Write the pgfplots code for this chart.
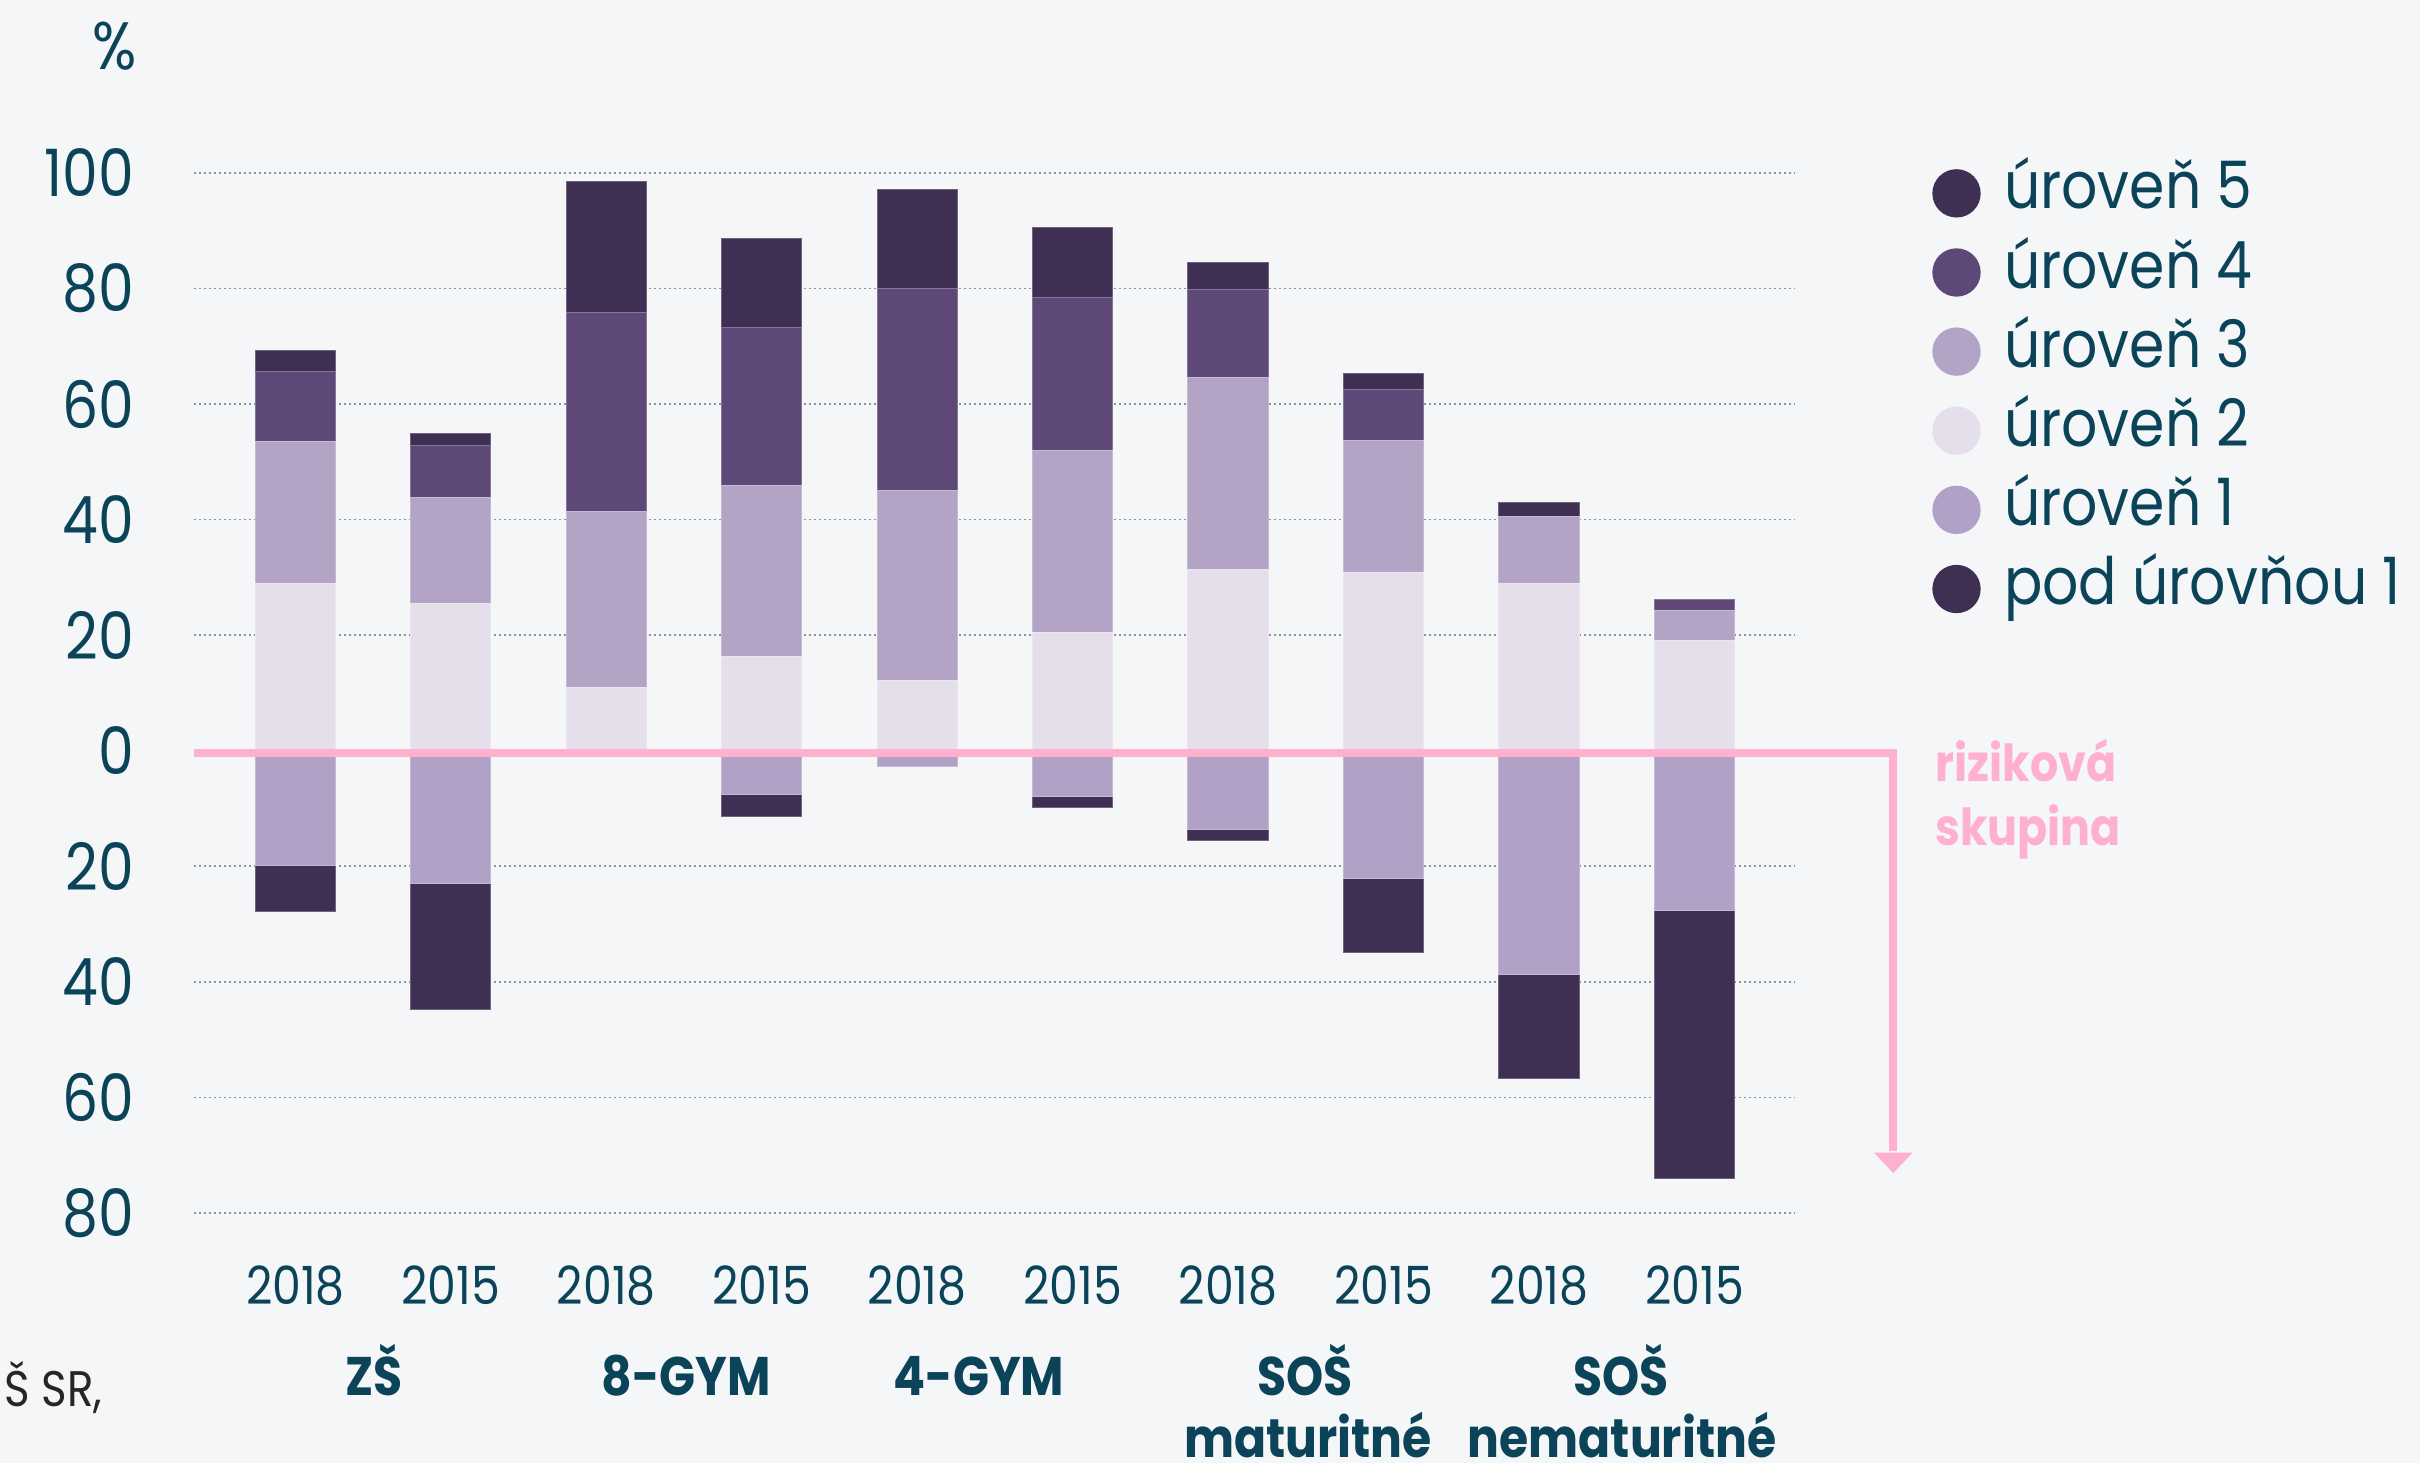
\documentclass[border=0pt]{standalone}
\usepackage{pgfplots}
\pgfplotsset{compat=1.18}
\usepackage{pgfplotstable}
\usepackage{fontspec}
\setmainfont{Poppins}[FakeStretch=0.87]
\definecolor{bgc}{HTML}{F4F6F8}
\definecolor{cfive}{HTML}{3F2F52}
\definecolor{cfour}{HTML}{5E4877}
\definecolor{cthree}{HTML}{B3A3C4}
\definecolor{ctwo}{HTML}{E5DFEB}
\definecolor{cone}{HTML}{B1A1C6}
\definecolor{cbelow}{HTML}{3F2F52}
\definecolor{pinkc}{HTML}{FFB0CF}
\definecolor{tealc}{HTML}{0B4459}
\definecolor{gridc}{HTML}{7E98A5}

% positive part: levels 2-5 (stacked upwards from 0)
\pgfplotstableread{
x l2 l3 l4 l5
0 29.0 24.6 12.0 3.7
1 25.5 18.4 9.0 2.0
2 10.9 30.5 34.4 22.8
3 16.3 29.6 27.4 15.3
4 12.1 32.9 35.0 17.1
5 20.5 31.4 26.6 12.1
6 31.3 33.3 15.3 4.6
7 30.8 22.9 8.9 2.7
8 29.0 11.5 0.0 2.5
9 19.1 5.1 1.9 0.0
}\postab

% negative part: level 1 and below level 1 (risk group)
\pgfplotstableread{
x l1 b1
0 -19.9 -8.0
1 -22.9 -21.9
2 -0.4 0.0
3 -7.5 -3.8
4 -2.7 0.0
5 -7.9 -2.0
6 -13.6 -1.9
7 -22.1 -12.8
8 -38.7 -18.0
9 -27.6 -46.4
}\negtab

\pgfplotsset{
  base/.style={
    scale only axis, width=480.2pt, height=312pt,
    xmin=-0.650, xmax=9.646, ymin=-80, ymax=100,
    ybar stacked, bar width=24.1pt, clip=false,
    at={(58.29pt,75pt)}, anchor=south west,
  },
  barsty/.style={fill=#1, draw=#1!75!white, line width=0.3pt},
  circleg/.style={legend image code/.code={\fill[##1,draw=none] (0pt,0pt) circle (7.25pt);}},
}

\begin{document}
\begin{tikzpicture}
\begin{scope}[x=0.3pt,y=0.3pt]
\fill[bgc] (0,0) rectangle (2420,1463);
\useasboundingbox (0,0) rectangle (2420,1463);
\end{scope}

\begin{axis}[base,
  axis line style={draw=none}, major tick length=0pt,
  ytick={-80,-60,...,100}, yticklabels={80,60,40,20,0,20,40,60,80,100},
  ymajorgrids, grid style={gridc, line width=0.5pt, dash pattern=on 0.5pt off 1pt},
  xtick={0,...,9}, xticklabels={2018,2015,2018,2015,2018,2015,2018,2015,2018,2015},
  yticklabel style={anchor=east, inner sep=0pt, xshift=-17.8pt, font=\fontsize{19.6}{20}\selectfont, text=tealc},
  xticklabel style={anchor=base, inner sep=0pt, yshift=-27.6pt, font=\fontsize{15.8}{16}\selectfont, text=tealc},
]
\addplot[barsty=ctwo] table[x=x,y=l2]{\postab};
\addplot[barsty=cthree] table[x=x,y=l3]{\postab};
\addplot[barsty=cfour] table[x=x,y=l4]{\postab};
\addplot[barsty=cfive] table[x=x,y=l5]{\postab};
\end{axis}

\begin{axis}[base, hide axis,
  legend style={at={(1.0854,1.0191)}, anchor=north west, draw=none, fill=none,
    inner sep=0pt, row sep=0pt, column sep=7pt,
    nodes={inner sep=0pt, text height=16.55pt, text depth=7.19pt,
      font=\fontsize{19.6}{20}\selectfont, text=tealc}},
  legend cell align=left,
  every axis plot post/.append style={circleg},
]
\addlegendimage{barsty=cfive,circleg}\addlegendentry{úroveň 5}
\addlegendimage{barsty=cfour,circleg}\addlegendentry{úroveň 4}
\addlegendimage{barsty=cthree,circleg}\addlegendentry{úroveň 3}
\addlegendimage{barsty=ctwo,circleg}\addlegendentry{úroveň 2}
\addplot[barsty=cone,circleg] table[x=x,y=l1]{\negtab};
\addlegendentry{úroveň 1}
\addplot[barsty=cbelow,circleg] table[x=x,y=b1]{\negtab};
\addlegendentry{pod úrovňou 1}
\end{axis}

\begin{scope}[x=0.3pt,y=0.3pt]
% risk-group line
\draw[pinkc, line width=2.4pt, miter limit=10] (194.3,710.2) -- (1893.3,710.2) -- (1893.3,312);
\fill[pinkc] (1874,310.3) -- (1912.7,310.3) -- (1893.3,290) -- cycle;
\node[anchor=base west, inner sep=0pt, text=pinkc, font=\fontsize{15.3}{16}\selectfont\bfseries] at (1935,681.3) {riziková};
\node[anchor=base west, inner sep=0pt, text=pinkc, font=\fontsize{15.3}{16}\selectfont\bfseries] at (1935,617.3) {skupina};
% percent sign
\node[anchor=base east, inner sep=0pt, text=tealc, font=\fontsize{20.1}{21}\selectfont] at (137,1393) {\%};
% category labels
\begin{scope}[every node/.style={anchor=base, inner sep=0pt, text=tealc, font=\fontsize{16.3}{17}\selectfont\bfseries}]
\node at (374,67) {ZŠ};
\node at (686,67) {8-GYM};
\node at (979,67) {4-GYM};
\node at (1305,67) {SOŠ};
\node at (1308,5) {maturitné};
\node at (1621,67) {SOŠ};
\node at (1622,5) {nematuritné};
\end{scope}
% cut-off source note
\node[anchor=base east, inner sep=0pt, text=black!85, font=\fontsize{15}{16}\selectfont] at (103,56) {Š SR,};
\end{scope}
\end{tikzpicture}
\end{document}
